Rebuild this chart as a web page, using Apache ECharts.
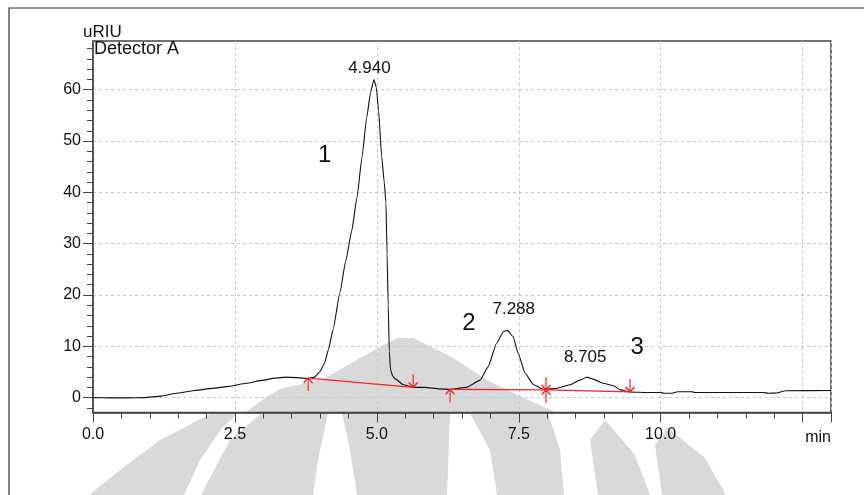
<!DOCTYPE html>
<html><head><meta charset="utf-8">
<script src="https://cdn.jsdelivr.net/npm/echarts@6/dist/echarts.min.js"></script>
<style>html,body{margin:0;padding:0;background:#fff}#c{width:864px;height:495px}</style>
</head><body><div id="c"></div>
<script>
// ---- data ----
const times  = [0.0,0.3,0.6,0.9,1.2,1.5,1.8,2.1,2.4,2.7,3.0,3.2,3.4,3.6,3.8,3.9,4.0,4.08,4.145,4.228,4.35,4.45,4.557,4.65,4.74,4.82,4.89,4.95,4.99,5.03,5.085,5.13,5.16,5.18,5.20,5.22,5.24,5.28,5.32,5.47,5.64,5.85,6.1,6.29,6.58,6.82,6.96,7.11,7.23,7.30,7.40,7.49,7.61,7.76,7.93,8.17,8.40,8.58,8.70,8.81,8.99,9.17,9.29,9.46,9.76,10.0,10.05,10.2,10.3,10.55,10.6,11.8,11.9,12.05,12.2,13.0];
const signal = [0.0,-0.05,-0.05,0.0,0.3,0.9,1.4,1.8,2.2,2.8,3.4,3.8,4.0,3.9,3.7,4.0,5.1,6.8,9.3,13.2,20.5,26.5,32.5,39.0,47.0,54.5,59.5,62.0,60.5,56.0,47.0,42.0,38.0,28.0,18.0,9.0,5.5,4.2,3.7,2.5,2.0,2.0,1.7,1.6,2.0,3.4,6.0,10.6,12.9,13.1,11.9,8.6,4.8,2.5,1.6,1.8,2.5,3.4,4.0,3.6,2.8,2.3,1.5,1.1,1.0,1.0,0.85,0.85,1.15,1.15,1.0,1.0,0.85,0.9,1.35,1.4];

const xMajorTicks = [0, 2.5, 5, 7.5, 10, 12.5, 13];
const xLabelValues = [0, 2.5, 5, 7.5, 10];
const xMinorTicks = [0.5,1,1.5,2,3,3.5,4,4.5,5.5,6,6.5,7,8,8.5,9,9.5,10.5,11,11.5,12,13];
const yMajorTicks = [0, 10, 20, 30, 40, 50, 60];
const yMinorTicks = [-2,2,4,6,8,12,14,16,18,22,24,26,28,32,34,36,38,42,44,46,48,52,54,56,58,62,64,66,68];

const peakTimes   = [4.940, 7.288, 8.705];
const peakHeights = [62.0, 13.0, 4.0];
const peakLabels  = ['4.940', '7.288', '8.705'];

const peakNumbers      = ['1', '2', '3'];
const peakNumberTimes  = [4.08, 6.62, 9.585];
const peakNumberLevels = [47.3, 14.4, 9.7];

const baseA_t = [3.79, 5.64], baseA_v = [3.8, 2.0];
const baseB_t = [6.29, 7.98, 9.46], baseB_v = [1.6, 1.5, 1.1];
const startMarkT = [3.79, 6.29, 7.98], startMarkV = [3.8, 1.6, 1.5];
const endMarkT   = [5.64, 7.98, 9.46], endMarkV   = [2.0, 1.5, 1.1];

// ---- chart ----
const FONT = 'Arial, "Liberation Sans", sans-serif';
const RED = '#ff2020';
const pair = (a, b) => a.map((t, i) => [t, b[i]]);
const labelOffsets = [[-4, -11], [7, -22], [-2, -20]];

const chart = echarts.init(document.getElementById('c'), null, {renderer: 'canvas'});

const wm = '#d9d9d9';
const watermark = [
  [[245,413],[262,400],[280,389],[323,379],[360,358],[397,338],[413,338],[450,356],[487,380],[520,396],[557,413]],
  [[89,495],[184,495],[200,460],[222,428],[238,413],[212,413],[160,440],[120,470]],
  [[201,495],[313,495],[318,460],[328,413],[262,413],[230,440]],
  [[357,495],[447,495],[450,413],[342,413],[350,450]],
  [[497,495],[564,495],[560,450],[548,413],[470,413],[490,450]],
  [[598,495],[650,495],[635,455],[605,420],[590,440]],
  [[662,495],[726,495],[705,458],[668,428],[655,445]]
].map(pts => ({type: 'polygon', z: -10, silent: true, shape: {points: pts}, style: {fill: wm}}));

const option = {
  animation: false,
  backgroundColor: '#fff',
  textStyle: {fontFamily: FONT},
  grid: {left: 93, right: 33, top: 41, bottom: 82.5, show: true, borderColor: '#444', borderWidth: 1.5, backgroundColor: 'transparent'},
  graphic: watermark.concat([
    {type: 'rect', z: 100, silent: true, shape: {x: 9, y: 8, width: 1000, height: 1000}, style: {fill: 'none', stroke: '#333', lineWidth: 1.2}},
    {type: 'text', z: 100, left: 83, top: 24, style: {text: 'uRIU', font: '17px ' + FONT, fill: '#111'}},
    {type: 'text', z: 100, left: 94, top: 40, style: {text: 'Detector A', font: '18px ' + FONT, fill: '#111'}}
  ]),
  xAxis: [
    {
      type: 'value', min: 0, max: 13, interval: 2.5,
      axisLine: {show: true, onZero: false, lineStyle: {color: '#444', width: 1.5}},
      axisTick: {show: true, customValues: xMajorTicks, length: 10, lineStyle: {color: '#444', width: 1}},
      axisLabel: {customValues: xLabelValues, formatter: v => v.toFixed(1), margin: 14, fontSize: 16, color: '#111', fontFamily: FONT},
      splitLine: {show: true, lineStyle: {color: '#c8c8c8', type: [3, 3], width: 1}},
      name: 'min', nameLocation: 'end', nameGap: 0,
      nameTextStyle: {fontSize: 16, color: '#111', align: 'right', verticalAlign: 'top', padding: [17, 0, 0, 0], fontFamily: FONT}
    },
    {
      type: 'value', min: 0, max: 13, position: 'bottom',
      axisLine: {show: false, onZero: false}, axisLabel: {show: false}, splitLine: {show: false},
      axisTick: {show: true, customValues: xMinorTicks, length: 6, lineStyle: {color: '#444', width: 1}}
    }
  ],
  yAxis: [
    {
      type: 'value', min: -2.9, max: 69.5, splitNumber: 7,
      axisLine: {show: true, onZero: false, lineStyle: {color: '#444', width: 1.5}},
      axisTick: {show: true, customValues: yMajorTicks, length: 10, lineStyle: {color: '#444', width: 1}},
      axisLabel: {customValues: yMajorTicks, margin: 12, fontSize: 16, color: '#111', fontFamily: FONT},
      splitLine: {show: true, lineStyle: {color: '#c8c8c8', type: [3, 3], width: 1}}
    },
    {
      type: 'value', min: -2.9, max: 69.5, position: 'left',
      axisLine: {show: false, onZero: false}, axisLabel: {show: false}, splitLine: {show: false},
      axisTick: {show: true, customValues: yMinorTicks, length: 6, lineStyle: {color: '#444', width: 1}}
    }
  ],
  series: [
    {
      type: 'line', data: pair(times, signal), showSymbol: false, smooth: 0.15, smoothMonotone: 'x',
      lineStyle: {color: '#111', width: 1.1}, z: 3, silent: true
    },
    {type: 'line', data: pair(baseA_t, baseA_v), showSymbol: false, lineStyle: {color: RED, width: 1.3}, z: 4, silent: true},
    {type: 'line', data: pair(baseB_t, baseB_v), showSymbol: false, lineStyle: {color: RED, width: 1.3}, z: 4, silent: true},
    {
      type: 'scatter', data: pair(startMarkT, startMarkV), z: 5, silent: true,
      symbol: 'path://M4.5,0 L4.5,13 M0,5 L4.5,0 L9,5', symbolSize: [9, 13], symbolOffset: [0, 6.5],
      itemStyle: {color: 'none', borderColor: RED, borderWidth: 1.4, opacity: 1}
    },
    {
      type: 'scatter', data: pair(endMarkT, endMarkV), z: 5, silent: true,
      symbol: 'path://M4.5,13 L4.5,0 M0,8 L4.5,13 L9,8', symbolSize: [9, 13], symbolOffset: [0, -6.5],
      itemStyle: {color: 'none', borderColor: RED, borderWidth: 1.4, opacity: 1}
    },
    {
      type: 'scatter', z: 6, silent: true, symbolSize: 0, itemStyle: {opacity: 1},
      data: peakTimes.map((t, i) => ({value: [t, peakHeights[i]], name: peakLabels[i], label: {offset: labelOffsets[i]}})),
      label: {show: true, position: 'inside', formatter: p => p.name, fontSize: 17, color: '#111', fontFamily: FONT}
    },
    {
      type: 'scatter', z: 6, silent: true, symbolSize: 0, itemStyle: {opacity: 1},
      data: peakNumberTimes.map((t, i) => ({value: [t, peakNumberLevels[i]], name: peakNumbers[i]})),
      label: {show: true, position: 'inside', formatter: p => p.name, fontSize: 24, color: '#111', fontFamily: FONT}
    }
  ]
};
chart.setOption(option);
</script>
</body></html>
